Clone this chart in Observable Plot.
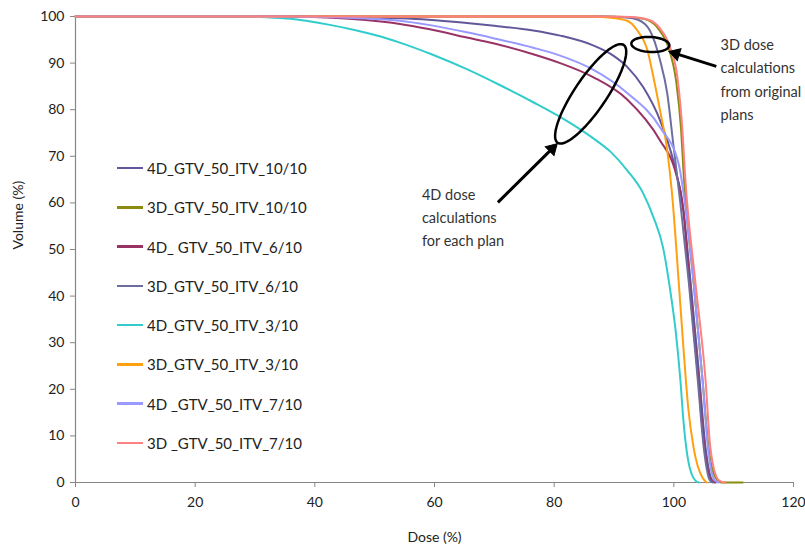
<!DOCTYPE html>
<html><head><meta charset="utf-8">
<script src="https://cdn.jsdelivr.net/npm/d3@7"></script>
<script src="https://cdn.jsdelivr.net/npm/@observablehq/plot@0.6"></script>
<style>
body{margin:0;background:#fff;}
#wrap{position:relative;width:805px;height:553px;font-family:Lato,"Open Sans",sans-serif;color:#222;}
.row{position:absolute;left:117px;height:20px;display:flex;align-items:center;font-size:15px;white-space:pre;}
.sw{display:inline-block;width:26px;height:2.5px;margin-right:4px;}
</style></head><body><div id="wrap"></div>
<script>
// ---- data ----
const seriesNames = ["4D_GTV_50_ITV_10/10","3D_GTV_50_ITV_10/10","4D_ GTV_50_ITV_6/10","3D_GTV_50_ITV_6/10","4D_GTV_50_ITV_3/10","3D_GTV_50_ITV_3/10","4D _GTV_50_ITV_7/10","3D _GTV_50_ITV_7/10"];
const seriesColors = ["#62579a","#8a8a10","#993366","#6e6e9e","#33cccc","#ffa010","#9999ff","#ff8080"];

const dose_4D_10 = [0,30,40,50,54.2,59,65.4,70,76.5,81,86.5,90,92.2,94.9,97.7,99.9,101.6,102.8,104.3,105.3,106.4,107];
const vol_4D_10  = [100,100,99.95,99.75,99.6,99.3,98.6,98.0,97.0,95.9,93.8,91.5,89.2,84.8,77.7,69.1,58.4,43,22,7.5,0.5,0];
const dose_3D_10 = [0,88,92,95,97.4,99.1,100.4,101.2,101.7,103.3,104.8,105.8,107,108,111.5];
const vol_3D_10  = [100,100,99.9,99.5,97.4,93.3,86,76,65,43,22,7.5,1,0,0];
const dose_4D_6  = [0,35,42,48,54.2,59,65.4,70,76.5,81,86.5,92.2,97.7,100.2,101.6,102.6,104.1,105.1,106.2,106.8];
const vol_4D_6   = [100,100,99.8,99.3,98.4,97.3,95.5,94.2,91.9,90.0,87.0,82.2,73.4,67,58.4,43,22,7.5,0.5,0];
const dose_3D_6  = [0,88,92,94,96,97.7,98.9,99.9,101.1,102.5,104,105,106,106.5];
const vol_3D_6   = [100,100,99.8,99.3,97,90.6,83.5,72.7,59.9,43,22,7.5,0.5,0];
const dose_4D_3  = [0,28,32,36,42.5,47,51,54.2,59.5,65.4,70.9,76.5,82.1,86.6,89.4,92.2,94.9,96.6,98.2,99.4,100.3,101.1,101.6,102.4,103.6,104.2];
const vol_4D_3   = [100,100,99.85,99.5,98.2,97.0,95.7,94.4,91.9,88.7,85.3,81.6,77.6,73.8,71.0,67.0,62.0,56.9,50.4,41.2,32.6,21.9,13.3,4.7,0.4,0];
const dose_3D_3  = [0,86,89,92.2,93.9,95.6,96.6,97.7,98.9,99.7,100.8,101.6,102.4,103.3,104.8,105.5];
const vol_3D_3   = [100,100,99.8,99.1,97,92.7,86.9,79.8,71.2,62,43.3,29,16.1,7.5,1,0];
const dose_4D_7  = [0,35,42,48,54.2,59,65.4,70,76.5,81,86.5,92.2,97.7,100.8,102,103.3,104.8,105.7,106.8,107.5];
const vol_4D_7   = [100,100,99.9,99.6,99.1,98.2,96.6,95.3,93.3,91.6,88.6,83.6,76.2,68.4,58.4,43,22,7.5,0.5,0];
const dose_3D_7  = [0,89,93,96,97.7,99.4,100.6,101.4,101.9,103.6,105.3,106.1,107.5,108.5];
const vol_3D_7   = [100,100,99.9,99.2,97.4,93.3,86.9,76.2,65.5,43,22,7.5,0.5,0];

const seriesDose = [dose_4D_10,dose_3D_10,dose_4D_6,dose_3D_6,dose_4D_3,dose_3D_3,dose_4D_7,dose_3D_7];
const seriesVol  = [vol_4D_10,vol_3D_10,vol_4D_6,vol_3D_6,vol_4D_3,vol_3D_3,vol_4D_7,vol_3D_7];

const xTicks = [0,20,40,60,80,100,120];
const yTicks = [0,10,20,30,40,50,60,70,80,90,100];

// annotations
const noteTexts = ["4D dose\ncalculations\nfor each plan", "3D dose\ncalculations\nfrom original\nplans"];
const noteDose = [57.9, 107.8];
const noteVol  = [57.3, 86.9];
const arrowFrom = [[70.6,60.1],[107.1,89.3]];
const arrowTo   = [[80.5,72.7],[99.2,92.5]];
const ellipseCenter = [[86.1,83.4],[96.07,94.0]];

// ---- layout ----
const W=805,H=553,mL=75,mR=12,mT=16,mB=71;
const kx=(W-mL-mR)/120, ky=(H-mT-mB)/100;
const ellipseShape = [{a:59,b:16,angle:-56},{a:19,b:7.5,angle:3}];

const rows = [];
seriesNames.forEach((s,i)=>seriesDose[i].forEach((d,j)=>rows.push({series:s,dose:d,vol:seriesVol[i][j]})));

const ell = [];
ellipseCenter.forEach((c,i)=>{
  const {a,b,angle}=ellipseShape[i]; const r=angle*Math.PI/180;
  for(let k=0;k<=96;k++){const t=2*Math.PI*k/96;const ex=a*Math.cos(t),ey=b*Math.sin(t);
    const px=ex*Math.cos(r)-ey*Math.sin(r), py=ex*Math.sin(r)+ey*Math.cos(r);
    ell.push({id:i,x:c[0]+px/kx,y:c[1]-py/ky});}
});
// arrow shafts end at the triangle head's centroid
const headBack = 7; // px
const shafts = [], heads = [];
arrowFrom.forEach((f,i)=>{
  const t=arrowTo[i];
  const dxp=(t[0]-f[0])*kx, dyp=-(t[1]-f[1])*ky; const L=Math.hypot(dxp,dyp);
  const ux=dxp/L, uy=dyp/L;
  const cx=t[0]-ux*headBack/kx, cy=t[1]+uy*headBack/ky;
  shafts.push({x1:f[0],y1:f[1],x2:cx,y2:cy});
  heads.push({x:cx,y:cy,rot:Math.atan2(ux,-uy)*180/Math.PI});
});
const notes = noteTexts.map((t,i)=>({text:t,x:noteDose[i],y:noteVol[i]}));

const chart = Plot.plot({
  width:W,height:H,marginLeft:mL,marginRight:mR,marginTop:mT,marginBottom:mB,
  style:{fontFamily:"Lato, 'Open Sans', sans-serif",fontSize:"14px",color:"#222",background:"#fff"},
  x:{domain:[0,120]}, y:{domain:[0,100]},
  color:{domain:seriesNames,range:seriesColors},
  marks:[
    Plot.axisX({ticks:xTicks,tickSize:5,tickPadding:10,stroke:"#868686",fill:"#222",fontSize:14,label:null}),
    Plot.axisY({ticks:yTicks,tickSize:5,tickPadding:6,stroke:"#868686",fill:"#222",fontSize:14,label:null}),
    Plot.ruleY([0],{stroke:"#868686",strokeWidth:1.2}),
    Plot.ruleX([0],{stroke:"#868686",strokeWidth:1.2}),
    Plot.line(rows,{x:"dose",y:"vol",z:"series",stroke:"series",strokeWidth:2,curve:"monotone-x"}),
    Plot.line(ell,{x:"x",y:"y",z:"id",stroke:"black",strokeWidth:2.5}),
    Plot.link(shafts,{x1:"x1",y1:"y1",x2:"x2",y2:"y2",stroke:"black",strokeWidth:3}),
    Plot.dot(heads,{x:"x",y:"y",symbol:"triangle",r:4.6,rotate:"rot",fill:"black",stroke:"black",strokeWidth:1}),
    Plot.text(notes,{x:"x",y:"y",text:"text",textAnchor:"start",lineAnchor:"middle",lineHeight:1.6,fontSize:14.5,fill:"#333"}),
    Plot.text(["Dose (%)"],{frameAnchor:"bottom",dy:59,fontSize:14,fill:"#222"}),
    Plot.text(["Volume (%)"],{frameAnchor:"left",dx:-57,rotate:-90,fontSize:14,fill:"#222"})
  ]
});
const wrap=document.getElementById("wrap");
wrap.appendChild(chart);
seriesNames.forEach((s,i)=>{
  const row=document.createElement("div");row.className="row";
  row.style.top=(168+39.25*i-10)+"px";
  const sw=document.createElement("span");sw.className="sw";sw.style.background=seriesColors[i];
  const tx=document.createElement("span");tx.textContent=s;
  row.appendChild(sw);row.appendChild(tx);wrap.appendChild(row);
});
</script></body></html>
